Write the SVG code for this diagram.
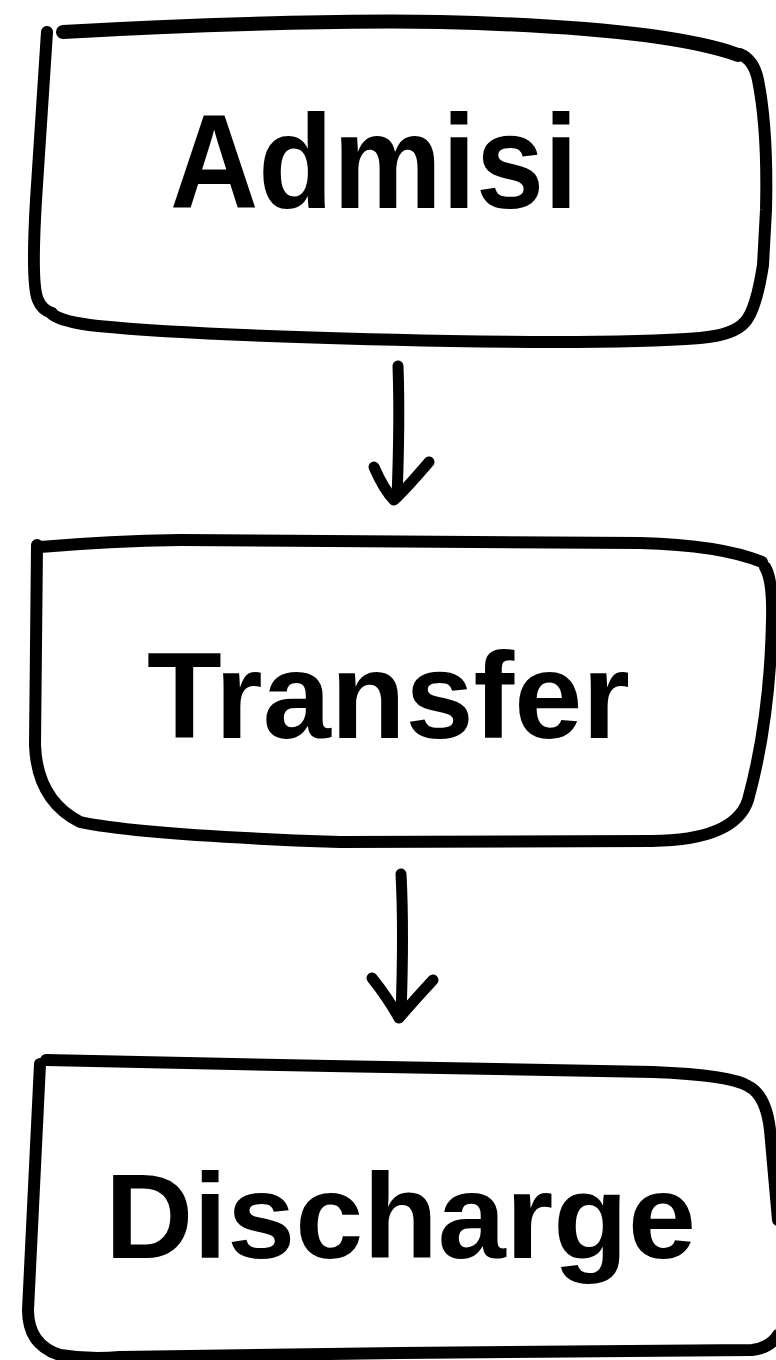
<svg xmlns="http://www.w3.org/2000/svg" width="776" height="1360" viewBox="0 0 776 1360">
<style>
.s{fill:none;stroke:#000;stroke-width:12;stroke-linecap:round;stroke-linejoin:round}
.a{fill:none;stroke:#000;stroke-width:11;stroke-linecap:round;stroke-linejoin:round}
.t{font-family:"Liberation Sans",Arial,sans-serif;font-weight:bold;fill:#000}
</style>
<rect width="776" height="1360" fill="#fff"/>
<g id="node-admisi">
<path class="s" d="M47,32 L36,200 Q31,285 38,300 Q42,310 52,313"/>
<path class="s" style="stroke-width:14" d="M63,32 C200,24 360,20 440,22 C560,25 680,34 738,55"/>
<path class="s" d="M740,54 Q754,60 758,80 Q768,130 766,210 L763,265 Q756,310 745,322 Q734,335 700,338 Q620,344 450,341 Q200,336 98,326 Q62,322 52,314"/>
<text class="t" x="170" y="208" font-size="134" textLength="408" lengthAdjust="spacingAndGlyphs">Admisi</text>
</g>
<g id="node-transfer">
<path class="s" d="M40,547 Q110,541 180,540 L640,543 Q720,545 762,562"/>
<path class="s" d="M37,545 L35,745 Q37,800 80,822 Q140,835 340,842 L652,841 Q735,840 748,800 Q770,720 772,620 Q773,580 765,567"/>
<text class="t" x="147" y="738" font-size="123" textLength="483" lengthAdjust="spacingAndGlyphs">Transfer</text>
</g>
<g id="node-discharge">
<path class="s" d="M40,1064 L28,1310 Q28,1345 60,1355 Q90,1360 120,1357"/>
<path class="s" d="M46,1060 L330,1066 L653,1072 Q730,1075 748,1086 Q766,1095 770,1130 L778,1220"/>
<path class="s" d="M778,1335 Q770,1348 752,1350 L400,1353 L120,1357"/>
<text class="t" x="105" y="1258" font-size="121" textLength="591" lengthAdjust="spacingAndGlyphs">Discharge</text>
</g>
<g id="connectors">
<path class="a" d="M398,366 Q400,420 397,497"/>
<path class="a" d="M374,467 Q384,490 394,500 Q405,490 429,462"/>
<path class="a" d="M401,874 Q404,930 401,1015"/>
<path class="a" d="M372,978 Q388,998 399,1018 Q410,1005 433,980"/>
</g>
</svg>
